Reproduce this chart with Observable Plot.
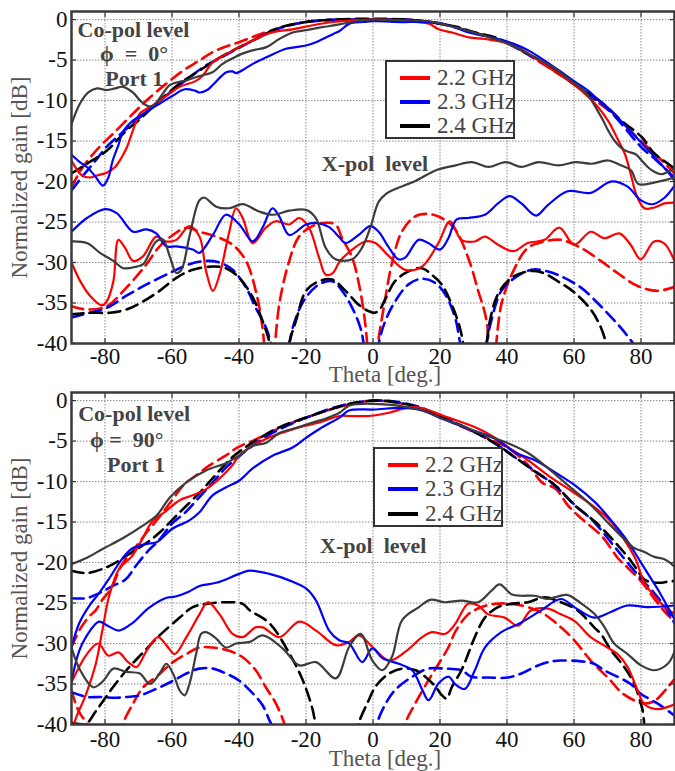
<!DOCTYPE html>
<html><head><meta charset="utf-8">
<script src="https://cdn.jsdelivr.net/npm/d3@7"></script>
<script src="https://cdn.jsdelivr.net/npm/@observablehq/plot@0.6"></script>
<style>
body{margin:0;background:#fff;}
#wrap{position:relative;width:675px;height:771px;overflow:hidden;font-family:"Liberation Serif","Times New Roman",serif;}
#wrap svg{display:block;}
.legend{position:absolute;background:#fff;border:2px solid #333;box-sizing:border-box;}
.legend .row{position:absolute;left:0;right:0;height:24px;}
.legend .sw{position:absolute;top:10px;width:30px;height:3.5px;}
.legend .lb{position:absolute;top:0;font-size:23px;line-height:24px;color:#444;white-space:nowrap;}
</style></head>
<body><div id="wrap"></div>
<script>
// ---------- axis ticks & labels ----------
const thetaTicks = [-80,-60,-40,-20,0,20,40,60,80];
const gainTicks = [0,-5,-10,-15,-20,-25,-30,-35,-40];
const freqLabels = ["2.2 GHz","2.3 GHz","2.4 GHz"];
const xLabel = "Theta [deg.]";
const yLabel = "Normalized gain [dB]";

// ---------- phi = 0 deg, co-pol (measured = solid, simulated = dashed) ----------
const phi0CoMeas22 = [[-90,-17.4],[-87,-19.2],[-84.5,-19.5],[-82,-19.2],[-79.5,-18.9],[-77,-18.2],[-75,-17],[-73.5,-15.8],[-71.5,-13.5],[-69.6,-11.6],[-67.5,-11],[-65.7,-10.6],[-61.6,-9.4],[-57.7,-8.3],[-53,-7.6],[-51,-7.0],[-47.9,-5.3],[-44,-4.3],[-40,-3.4],[-36,-2.6],[-31.8,-1.8],[-28,-1.4],[-24,-1.2],[-18,-0.7],[-12,-0.3],[-6,-0.1],[0,0],[8,-0.1],[16.7,-0.5],[19.6,-1.2],[23.6,-1.6],[28.6,-2.2],[33.5,-2.4],[40.5,-3.0],[46.4,-4.2],[52.4,-5.9],[58.3,-7.5],[62.3,-8.8],[66.3,-10.4],[70.2,-12.5],[73.2,-14.9],[75.2,-16.6],[77.2,-19.5],[78.5,-21.5],[81,-23.3],[84,-23.2],[87,-22.7],[90,-22.6]];
const phi0CoMeas23 = [[-90,-16.7],[-87.5,-17.6],[-85.4,-18.2],[-83,-19.3],[-80.6,-20.5],[-79,-19.5],[-77.7,-17.4],[-76,-15.5],[-74.7,-13.9],[-72,-12.6],[-69.6,-11.9],[-64.6,-10.6],[-59.8,-9.4],[-56.2,-8.6],[-53,-8.8],[-51.8,-9.0],[-49.5,-8.7],[-47.9,-8.1],[-43.8,-6.5],[-42,-6.4],[-40.8,-6.6],[-38,-6.0],[-36,-5.5],[-31,-4.5],[-26,-3.6],[-23,-3.4],[-20,-3.2],[-16,-2.6],[-12,-1.8],[-10,-1.4],[-7,-0.5],[-3,-0.3],[0,-0.2],[8.6,-0.3],[14,-0.3],[19.6,-0.4],[24,-0.9],[28.6,-1.6],[33,-2.0],[37.5,-2.4],[42,-3.0],[46.4,-3.8],[51,-5.0],[56.3,-6.5],[60,-7.6],[64.3,-8.8],[67.5,-10],[71,-11.2],[76,-13.4],[81,-15.6],[85,-17.4],[88,-18.8],[90,-19.9]];
const phi0CoMeas24 = [[-90,-12.9],[-87.5,-10.4],[-85,-9.0],[-82.4,-8.5],[-79.5,-8.7],[-77,-8.5],[-74.7,-8.3],[-71.7,-9.0],[-69.5,-10.0],[-67.6,-10.6],[-66,-10.7],[-64.6,-10.2],[-62.5,-9.0],[-60.7,-8.1],[-58,-7.7],[-55.7,-7.5],[-52,-7.0],[-47.9,-6.5],[-45,-5.5],[-42,-4.8],[-39,-4.2],[-36,-3.8],[-31.8,-3.4],[-28,-2.4],[-24,-1.6],[-20,-1.3],[-16,-1.0],[-10,-0.6],[-5,-0.2],[0,0],[8,-0.1],[16.7,-0.2],[22,-0.7],[28.6,-1.4],[34,-2.1],[40.5,-3.0],[46.4,-4.2],[50,-5.0],[54.5,-6.1],[58,-7.2],[62.2,-8.5],[64.5,-9.5],[66.4,-10.8],[68.5,-12.3],[70.2,-13.7],[72,-14.9],[74,-15.8],[76,-16.3],[78.3,-16.6],[80,-17.3],[82,-18.2],[84,-18.8],[86,-19.1],[88,-18.8],[90,-18.3]];
const phi0CoSim22 = [[-90,-20.7],[-86.6,-18.2],[-81.6,-15.7],[-77.6,-14.1],[-71.6,-11.6],[-67.6,-10],[-62,-8.0],[-56.7,-6.3],[-52,-5.1],[-47.8,-4.0],[-43,-3.2],[-40,-2.8],[-35,-2.0],[-30,-1.3],[-25,-0.7],[-20,-0.3],[-15,-0.1],[-10,0],[0,0],[10,0],[15,-0.2],[20,-0.5],[25,-1.0],[30,-1.6],[35,-2.2],[40,-2.9],[45,-4.0],[50,-5.3],[55,-6.6],[60,-8.0],[65,-9.6],[70,-11.1],[75,-13.0],[80,-15.0],[85,-16.9],[90,-19.0]];
const phi0CoSim23 = [[-90,-21.1],[-86.6,-19.3],[-82.6,-17.3],[-79.5,-15.7],[-75,-14.0],[-70,-12.2],[-65,-10.5],[-60,-8.8],[-55,-7.2],[-50,-5.7],[-45,-4.6],[-40,-3.5],[-35,-2.4],[-30,-1.4],[-25,-0.7],[-20,-0.3],[-15,-0.1],[-10,0],[0,0],[10,0],[15,-0.2],[20,-0.5],[25,-1.0],[30,-1.6],[35,-2.2],[40,-2.9],[45,-4.0],[50,-5.2],[55,-6.5],[60,-7.9],[65,-9.4],[70,-11.0],[74.2,-12.9],[80.2,-15.8],[84.1,-17.2],[87,-18.3],[90,-19.6]];
const phi0CoSim24 = [[-90,-19.0],[-85.4,-17.8],[-79.5,-16.2],[-73.6,-13.7],[-69.6,-12.3],[-63.7,-10.0],[-57.7,-7.9],[-51.8,-6.3],[-45.8,-4.7],[-39.9,-3.4],[-34,-2.2],[-28,-1.0],[-20,-0.3],[-12,0],[0,0.1],[10,0],[15,-0.2],[20,-0.5],[25,-0.9],[30.6,-1.6],[36.5,-2.2],[42.5,-3.4],[48.4,-4.7],[56.3,-6.9],[62.3,-8.6],[68.2,-10.2],[74.2,-12.5],[80.2,-14.5],[84.1,-16.6],[88.1,-17.8],[90,-18.4]];

// ---------- phi = 0 deg, cross-pol ----------
const phi0XMeas22 = [[-90,-30],[-87.4,-32.3],[-84.5,-34.1],[-81,-35.3],[-79.5,-34.8],[-77.5,-32.3],[-76,-27.2],[-74,-28.2],[-71.6,-29.8],[-68.6,-29.2],[-64.7,-26.8],[-61.7,-27.4],[-58.7,-27.2],[-54.8,-25.5],[-51.8,-26.8],[-49.8,-31.1],[-47.8,-33.5],[-45.8,-31.5],[-42.9,-26.2],[-40.9,-23.3],[-38.9,-24.5],[-35.9,-27.6],[-32,-25.7],[-29,-24.9],[-25,-25.3],[-22,-24.5],[-19.1,-25.7],[-16.1,-29.4],[-14.1,-31.5],[-12,-31.3],[-10,-29.9],[-6.2,-28.4],[-2.3,-27.4],[0.7,-27.6],[4.7,-29.2],[9.6,-30.9],[14.6,-30.5],[19.5,-27.6],[23,-24.9],[26.4,-27.2],[30.4,-27.4],[33.4,-26.8],[37.3,-27.8],[41.8,-28.6],[46.2,-27.6],[51.2,-27.2],[55.6,-25.7],[60.1,-27.8],[65,-26.2],[69,-27],[73.5,-26.4],[76.9,-27.8],[79.9,-29.6],[83.9,-27.4],[86.8,-27.6],[90,-29.8]];
const phi0XMeas23 = [[-90,-26.2],[-85.4,-24.5],[-80,-23.4],[-76.5,-23.9],[-71.6,-26.2],[-67.6,-25.9],[-64.7,-26.4],[-61.7,-28.0],[-58.7,-28],[-53.8,-28.4],[-51.8,-28.8],[-47.8,-26.6],[-43.9,-24.1],[-39.9,-25.3],[-35.9,-27.4],[-33,-25.7],[-30,-23.3],[-28,-24.3],[-25,-26.6],[-20,-25.3],[-17.1,-25.1],[-13.2,-25.6],[-10.2,-26.8],[-8.2,-27.6],[-4.3,-26.6],[-0.8,-25.5],[1.7,-26.2],[4.5,-28],[7.6,-29.6],[9.6,-29.4],[13.6,-27.2],[16.5,-27.6],[20,-28.4],[22.5,-27],[24.9,-24.7],[28.4,-24.5],[33.4,-24.1],[37.3,-22.7],[40.8,-21.8],[44.3,-22.7],[48.7,-24.2],[52.2,-22.9],[58.1,-21.2],[65,-21.4],[71,-20],[75.9,-20.6],[79.9,-22.3],[83.4,-22.8],[87,-22],[90,-20.5]];
const phi0XMeas24 = [[-90,-27.4],[-85.4,-27.6],[-81.5,-28.8],[-77.5,-29.8],[-74.6,-30.7],[-70.6,-30.5],[-68.6,-30.2],[-64.7,-27.4],[-62.7,-27.2],[-60.7,-29.2],[-58.7,-31.3],[-57.2,-30.9],[-54.8,-26.8],[-51.8,-22.3],[-50.3,-22.0],[-46.8,-23.1],[-42.9,-23.3],[-38.9,-22.8],[-34,-23.7],[-30,-24.1],[-25,-23.6],[-20,-23.5],[-17.1,-24.5],[-14.1,-28.2],[-11.2,-29.6],[-6.2,-29.6],[-3.3,-28.2],[-0.8,-25.7],[1.7,-22.5],[4,-21.5],[6.8,-20.9],[12.8,-19.9],[18.8,-18.6],[24.7,-18.0],[29.5,-17.6],[34.5,-18.2],[39.6,-17.6],[44.3,-18.2],[49.4,-17.6],[55.4,-18.0],[60.4,-17.6],[65.2,-17.8],[70.2,-17.4],[74,-18.0],[77,-18.6],[79.2,-20.3],[84.2,-20.1],[90,-19.5]];
const phi0XSim22 = [[-90,-35.4],[-85.4,-35.8],[-79.5,-35.4],[-73.6,-33.1],[-67.6,-30.2],[-63.7,-28],[-59.7,-26.6],[-55.7,-25.7],[-51.8,-26.2],[-46.8,-26.8],[-41.9,-27.8],[-37.9,-29.8],[-35,-33.5],[-33,-38],[-31,-47],[-28,-35.2],[-25,-29.8],[-22.1,-26.8],[-18.1,-25.5],[-14.1,-25.1],[-11.2,-25.3],[-9.2,-27],[-6.2,-29.4],[-3.8,-33.5],[-2.3,-37.6],[0,-47],[1.5,-40],[3.2,-35.6],[5.6,-30.2],[8.6,-26.2],[12.6,-24.3],[16.5,-24],[20.5,-24.5],[24.5,-25.9],[28.4,-29.4],[31.4,-33.5],[33.9,-37.2],[35.3,-46],[38.3,-35.2],[42.3,-30.7],[46.2,-28.2],[51.2,-27.4],[56.1,-27.2],[62.1,-28.2],[68,-29.8],[73,-31.3],[79,-32.9],[84.9,-33.5],[90,-33.0]];
const phi0XSim23 = [[-90,-36.8],[-84.5,-36.2],[-79.5,-35.6],[-73.6,-34.1],[-67.6,-32.7],[-59.7,-31.1],[-54.8,-30.2],[-49.8,-29.8],[-45.8,-30],[-41.9,-30.9],[-37.9,-33.1],[-35,-35.6],[-32,-38],[-30.5,-40],[-27.7,-48],[-25,-40],[-23,-36.8],[-20,-34.3],[-16.1,-32.7],[-12.2,-32.3],[-9.2,-33.5],[-6.2,-35.6],[-3.8,-38],[-2.8,-40],[-0.5,-48],[1.7,-40],[3.7,-37.2],[6.6,-34.8],[10.6,-32.7],[14.6,-32],[18.5,-32.5],[21.5,-33.9],[24.5,-36.8],[25.9,-39.7],[30,-50],[33.9,-40],[35.3,-37.2],[38.3,-33.5],[42.3,-31.9],[47.2,-30.9],[51.2,-31],[56.1,-31.7],[62.1,-33.1],[68,-35.4],[73,-37.6],[76.4,-39.3],[78.4,-40.5],[80,-42]];
const phi0XSim24 = [[-90,-36.4],[-84.5,-36.2],[-78.5,-36.2],[-73.6,-35.8],[-68.6,-34.8],[-63.7,-33.5],[-58.7,-31.9],[-53.8,-30.9],[-47.8,-30.5],[-43.9,-30.7],[-39.9,-31.9],[-35.9,-34.3],[-33,-37.2],[-31,-39.7],[-28,-48],[-25,-40],[-23,-37.2],[-20,-33.5],[-16.1,-32.3],[-12.2,-32.1],[-8.2,-33.5],[-4.3,-35.2],[-1.3,-36],[0.5,-36.2],[2,-35.8],[3.7,-34.5],[6.6,-32.3],[10.6,-31.1],[14.6,-30.7],[17.5,-31.5],[20.5,-32.7],[23.5,-35.2],[25.9,-38],[26.9,-40],[30.4,-50],[33.9,-40],[34.9,-37.2],[37.3,-33.9],[41.3,-31.9],[46.2,-31.1],[50.2,-31.2],[55.1,-32.3],[60.1,-33.7],[65,-35.8],[68,-38],[70,-40.5],[71,-42]];

// ---------- phi = 90 deg, co-pol ----------
const phi90CoMeas22 = [[-89.6,-42],[-89.2,-39.9],[-85.7,-36.3],[-82.8,-32.6],[-80.8,-28.4],[-78.8,-24.2],[-75.8,-20.8],[-71.9,-19.2],[-69,-17.2],[-66,-15.0],[-62,-13.7],[-57.7,-12.3],[-53.8,-11.7],[-49.7,-10.9],[-45.8,-9.6],[-42,-8.0],[-40,-6.8],[-36,-5.6],[-31.8,-4.7],[-28,-4.1],[-22,-3.3],[-16,-2.7],[-10,-1.9],[-7,-1.9],[-1.2,-1.9],[4.8,-1.5],[9,-1.0],[12.6,-0.8],[16.7,-1.2],[22.5,-2.1],[30.5,-3.3],[36.5,-4.6],[40.5,-5.8],[46.4,-7.4],[52.4,-9.3],[58.3,-10.9],[64.3,-12.6],[70.2,-14.6],[74.2,-16.7],[78.3,-19.5],[81,-22.5],[85,-24.6],[88,-25.8],[90,-26.3]];
const phi90CoMeas23 = [[-90,-30.5],[-87.7,-27.5],[-84.8,-25.4],[-81.8,-23.8],[-78.8,-22],[-75,-19.6],[-72,-18.3],[-67.6,-17.7],[-64.6,-17.5],[-59.8,-15.8],[-54.8,-14.8],[-51.8,-13.8],[-47.9,-11.7],[-43.8,-10.7],[-40,-9.9],[-36,-8.4],[-30,-6.8],[-24,-5.8],[-20,-4.6],[-16,-3.5],[-10,-2.1],[-7,-1.2],[0.3,-1.1],[8.6,-0.9],[14.6,-1.2],[20.5,-2.2],[28.6,-3.5],[36.5,-4.7],[42.4,-6.4],[48.5,-7.4],[54.5,-8.9],[60.4,-10.5],[66.4,-12.6],[72.3,-15.4],[76.2,-17.5],[80,-20.0],[82.1,-21.4],[85,-23.3],[88,-25.5],[90,-27]];
const phi90CoMeas24 = [[-90,-20.2],[-85.4,-19.4],[-80.6,-18.3],[-74.7,-17.0],[-68.6,-15.4],[-64.6,-14.2],[-60.7,-12.0],[-55.7,-10.1],[-49.7,-8.6],[-43.8,-7.7],[-40,-6.8],[-36,-5.6],[-31.8,-5.2],[-28,-4.0],[-24,-3.5],[-18,-2.7],[-14,-2.2],[-10,-1.5],[-7,-0.6],[0.3,-0.4],[6.8,-0.6],[14.6,-1.2],[20.5,-2.2],[26.5,-3.1],[32.4,-4.1],[40.5,-5.3],[46.4,-6.5],[52.4,-8.4],[58.3,-10.5],[64.3,-12.6],[70.2,-15.1],[75,-17.1],[78,-18.2],[81,-18.7],[84,-19.3],[87,-19.6],[90,-20.5]];
const phi90CoSim22 = [[-90,-30.4],[-87.4,-28.2],[-84.8,-26.7],[-82.8,-25.9],[-80.8,-24.6],[-78.3,-23.3],[-74.9,-20.2],[-71.9,-18.7],[-68,-16.5],[-64,-14.5],[-60,-12.3],[-56.2,-10.3],[-52,-9.0],[-48.8,-8.0],[-44,-6.8],[-40.5,-5.8],[-35,-4.8],[-28,-3.4],[-20,-2.1],[-12,-1.0],[-6,-0.4],[0,0],[6,-0.2],[14,-0.9],[20,-2.0],[28,-3.5],[35,-4.8],[40.5,-5.9],[46.4,-8.0],[50.4,-10.1],[54.5,-10.9],[58.3,-13],[62.3,-14.6],[68.2,-16.7],[73.2,-19.5],[76.2,-20.7],[80,-22.3],[84,-24.5],[88,-26.5],[90,-27.2]];
const phi90CoSim23 = [[-90,-24.4],[-85.7,-24.4],[-81.8,-23.8],[-77.8,-22.9],[-73.9,-22.1],[-70.6,-20.3],[-67,-18.5],[-64,-17.3],[-60,-15.2],[-56,-13.8],[-52,-12.0],[-48,-10.2],[-44,-8.3],[-40,-6.9],[-36,-5.6],[-30,-4.0],[-24,-2.8],[-18,-1.8],[-12,-0.9],[-6,-0.3],[0,0],[6,-0.1],[14,-0.8],[20,-1.9],[28,-3.4],[36,-5.2],[42,-6.9],[48,-8.6],[54,-10.4],[60,-12.8],[66,-15.0],[72,-18],[79,-21.5],[84,-23.8],[87,-25.4],[90,-27.5]];
const phi90CoSim24 = [[-90,-21],[-85.7,-21.3],[-80.8,-20.8],[-76.8,-20],[-71.9,-18.7],[-67,-17.4],[-63.7,-16.3],[-57.7,-13.8],[-51.8,-11.4],[-47.9,-9.6],[-42,-7.0],[-36,-5.2],[-28,-3.3],[-20,-2.1],[-12,-1.0],[-7,-0.4],[0.3,0],[6.8,-0.2],[14.6,-1.0],[20.5,-2.1],[28.6,-3.5],[36.5,-5.3],[42.4,-7.0],[48.5,-8.8],[54.5,-10.5],[60.4,-13],[66.4,-15],[72.3,-17.5],[77,-19.8],[79,-21],[81,-22.1],[85,-22.5],[89,-22.3],[90,-22.3]];

// ---------- phi = 90 deg, cross-pol ----------
const phi90XMeas22 = [[-90,-34.8],[-85.4,-31.3],[-82,-30.0],[-79,-31.5],[-76,-31.1],[-73.1,-32.3],[-70.6,-32.9],[-67.6,-30.9],[-64.2,-29.2],[-61.7,-30.2],[-59.2,-31.3],[-55.7,-29.2],[-51.8,-26.4],[-49.3,-24.9],[-45.8,-26.4],[-41.9,-28.8],[-38.9,-29.2],[-35,-28.0],[-32.9,-28],[-27.9,-29.2],[-22,-27.3],[-17,-28.4],[-11.1,-30.2],[-7.1,-29.8],[-4.2,-29],[-0.2,-30.4],[4.8,-32.1],[9.7,-31],[14.7,-29.2],[17.6,-28.6],[21.6,-28.8],[24.5,-27.6],[28.4,-25.1],[31.4,-25.3],[34.4,-26.4],[39.3,-26.8],[43.3,-27.8],[47.2,-25.9],[52.2,-25.7],[56.1,-26.4],[60.1,-27.2],[65,-29.2],[70,-30.5],[73,-31.3],[76,-32.9],[79,-35.8],[81,-37.5],[85,-38.1],[90,-37.5]];
const phi90XMeas23 = [[-90,-34.6],[-87.7,-30.9],[-85.7,-29.2],[-81.8,-27.3],[-78.8,-27.9],[-75.8,-28.4],[-71.9,-27.5],[-66.9,-25.6],[-62,-24.4],[-59,-24.2],[-55,-23.6],[-51.8,-22.9],[-46.8,-22.5],[-39.9,-21.4],[-36.8,-21],[-30.9,-21.4],[-25,-22.2],[-20,-23.2],[-17,-24.7],[-13.1,-28.4],[-10.1,-29.6],[-7.1,-30.0],[-3.2,-32.3],[-0.2,-30.6],[2.8,-31.8],[7.7,-32.5],[11.7,-33.3],[14.7,-35.7],[16.6,-37],[19.6,-34.9],[22.6,-34.1],[24.5,-35.0],[27.4,-35.6],[30.4,-33.3],[33.4,-30.5],[38.3,-28.6],[44.3,-27.4],[50.2,-25.9],[56.1,-24.5],[60.1,-25.5],[66,-26.8],[71,-26.1],[75.9,-25.3],[81.9,-25.5],[90,-25.3]];
const phi90XMeas24 = [[-90,-30.5],[-87.4,-33.3],[-83.5,-35.4],[-80.5,-34.6],[-77.5,-33.1],[-73.6,-33.5],[-69.6,-33.7],[-66.6,-35.0],[-63.7,-33.7],[-61.7,-32.5],[-59.7,-33.7],[-57.7,-35.8],[-56.2,-36.4],[-54.8,-35.0],[-52.8,-31.3],[-51.3,-28.8],[-49.8,-28.6],[-46.8,-29.4],[-43.9,-30.5],[-40.9,-30.0],[-36.8,-29.8],[-32.9,-29],[-27,-30.6],[-22,-32.7],[-17,-32.3],[-11.1,-34.3],[-7.1,-30.4],[-3.7,-28.8],[-0.2,-32.1],[2.8,-33.3],[5.7,-31.6],[8.7,-27.1],[13.7,-25.5],[17.1,-24.6],[21.5,-24.9],[26.4,-24.7],[31.4,-24.9],[35.3,-23.5],[37.8,-22.7],[41.3,-23.9],[44.3,-24.1],[48.2,-24.1],[52.2,-24.5],[55,-24.2],[58,-24],[62,-25],[66,-26.3],[69,-27.9],[72,-30],[76,-31.3],[80,-32.7],[84,-33.3],[88,-32.5],[90,-31]];
const phi90XSim22 = [[-90,-35.8],[-88.7,-37.5],[-87.4,-38.7],[-85.4,-39.9],[-84.8,-41.5],[NaN,NaN],[-75.2,-41.5],[-74.6,-39.9],[-71.6,-37.4],[-68.6,-35.4],[-64.7,-34.1],[-59.7,-32.3],[-55.7,-31.3],[-51.8,-30.5],[-47.8,-30.5],[-42.9,-30.9],[-38.9,-31.7],[-35,-33.3],[-32,-35.4],[-29,-37.4],[-26.5,-39.9],[-25.9,-41.5],[NaN,NaN],[9,-41.5],[9.6,-39.9],[12.6,-37.4],[16.6,-34.5],[19.6,-32.5],[22.6,-30.4],[24.5,-28.6],[28.4,-26.4],[32.4,-25.5],[36.3,-25.1],[41.3,-25.1],[46.2,-25.5],[51.2,-26.4],[56.1,-28],[60.1,-29.6],[65,-32.1],[71,-34.6],[74,-36],[77.9,-37],[80.9,-37.4],[84,-37.1],[88,-35.4],[90,-34.4]];
const phi90XSim23 = [[-90,-36],[-85.4,-36.6],[-81.5,-36.6],[-76.8,-36.7],[-73.6,-36.6],[-69.6,-36.4],[-64.7,-35.6],[-59.7,-34.6],[-55.7,-33.7],[-51.8,-33.1],[-47.8,-33.1],[-43.9,-33.7],[-39.9,-34.6],[-35.8,-36.2],[-33,-37.6],[-31,-39.4],[-30,-40.3],[-29.5,-41.5],[NaN,NaN],[0.9,-41.5],[1.3,-39.8],[3.8,-37.4],[6.7,-35.7],[11.7,-34.1],[16.5,-33.1],[21.5,-33.1],[26.4,-33.3],[29.4,-34.1],[34.4,-34.2],[40.3,-34.2],[44.3,-33.7],[48.2,-32.9],[52.2,-32.3],[56.1,-32.1],[62.1,-32.2],[66,-32.5],[69,-33.3],[73,-34.1],[76.9,-35],[79.9,-36.2],[84.9,-37.4],[90,-38.9]];
const phi90XSim24 = [[-90,-39.8],[-85.7,-39.9],[-82.8,-38.4],[-77.8,-35.5],[-73.6,-33.3],[-68.6,-31.1],[-63.7,-29],[-57.7,-26.8],[-53.8,-25.5],[-49.8,-25.1],[-43.9,-24.9],[-38.9,-25.1],[-36.8,-25.9],[-30.9,-27.5],[-25,-31.2],[-21,-34.5],[-18,-38.2],[-17.1,-40.3],[-16.7,-41.5],[NaN,NaN],[-4.7,-41.5],[-4.2,-39.8],[-1.5,-37.2],[0.8,-35.3],[4.8,-33.7],[8.7,-33.1],[12.7,-33.3],[15.6,-34.1],[18.6,-35.3],[20.6,-36.4],[22,-36.8],[23.5,-35.4],[26.4,-33.3],[28.4,-31.3],[30.4,-29.2],[33.4,-26.8],[37.3,-25.5],[41.3,-25.1],[46.2,-24.9],[51.2,-24.3],[56.1,-24.9],[61.1,-25.9],[66,-28],[68,-28.8],[71,-30.8],[75,-32.9],[78,-35],[80,-37.5],[80.5,-38.3],[81.3,-41.5]];

// ---------- annotations (theta, gain) ----------
const phi0Notes = [
  {t:"Co-pol level", x:-88.2, y:-1.3},
  {t:"\u03D5\u00A0\u00A0=\u00A0\u00A00°", x:-81.5, y:-4.2},
  {t:"Port 1", x:-79.9, y:-7.3},
  {t:"X-pol\u00A0\u00A0level", x:-15.3, y:-17.8}
];
const phi90Notes = [
  {t:"Co-pol level", x:-88.0, y:-1.6},
  {t:"\u03D5\u00A0=\u00A0\u00A090°", x:-84.5, y:-4.9},
  {t:"Port 1", x:-79.4, y:-8.0},
  {t:"X-pol\u00A0\u00A0level", x:-15.8, y:-17.9}
];

// ---------- styles ----------
const FONT = '"Liberation Serif","Times New Roman",serif';
const measColors = ["#ff0000","#0000ff","#3c3c3c"];
const simColors = ["#ff0000","#0000ff","#000000"];
const legendColors = ["#ff0000","#0000ff","#000000"];

function panel(opts) {
  const {height, marginTop, marginBottom, meas, sim, notes, tickPad, xLabDy} = opts;
  const gridStyle = {stroke:"#8a8a8a", strokeOpacity:1, strokeWidth:1, strokeDasharray:"1.5,1.5"};
  const marks = [
    Plot.gridX(thetaTicks, gridStyle),
    Plot.gridY(gainTicks, gridStyle)
  ];
  sim.forEach((d,i) => marks.push(Plot.line(d, {x: p=>p[0], y: p=>p[1], stroke: simColors[i % 3], strokeWidth: 2.6, strokeDasharray: "12,6.5", curve: "catmull-rom", clip: true})));
  meas.forEach((d,i) => marks.push(Plot.line(d, {x: p=>p[0], y: p=>p[1], stroke: measColors[i % 3], strokeWidth: 2.2, curve: "catmull-rom", clip: true})));
  const tickOpts = {tickFormat: () => "", label: null, stroke: "#333", strokeWidth: 1.2};
  marks.push(
    Plot.axisX({ticks: thetaTicks, anchor: "bottom", tickSize: 5, dy: -5, ...tickOpts}),
    Plot.axisX({ticks: thetaTicks, anchor: "top", tickSize: 5, dy: 5, ...tickOpts}),
    Plot.axisY({ticks: gainTicks, anchor: "left", tickSize: 5, dx: 5, ...tickOpts}),
    Plot.axisY({ticks: gainTicks, anchor: "right", tickSize: 5, dx: -5, ...tickOpts}),
    Plot.axisX({ticks: thetaTicks, anchor: "bottom", tickSize: 0, tickPadding: tickPad, tickFormat: d => String(d), label: null, fontSize: 23, fill: "#111"}),
    Plot.axisY({ticks: gainTicks, anchor: "left", tickSize: 0, tickPadding: 4, tickFormat: d => String(d), label: null, fontSize: 23, fill: "#111"}),
    Plot.frame({stroke: "#3a3a3a", strokeWidth: 2.5}),
    Plot.text(notes, {x: "x", y: "y", text: "t", textAnchor: "start", lineAnchor: "middle", fontWeight: "bold", fontSize: 22, fill: "#444"}),
    Plot.text([xLabel], {frameAnchor: "bottom", textAnchor: "middle", lineAnchor: "middle", dx: 12, dy: xLabDy, fontSize: 23, fill: "#555"}),
    Plot.text([yLabel], {frameAnchor: "left", textAnchor: "middle", lineAnchor: "middle", rotate: -90, dx: -52, fontSize: 23, fill: "#555"})
  );
  return Plot.plot({
    width: 675, height, marginTop, marginBottom, marginLeft: 71, marginRight: 1,
    style: {fontFamily: FONT, background: "#fff", overflow: "visible"},
    x: {domain: [-90, 90]},
    y: {domain: [-40, 1]},
    marks
  });
}

function makeLegend(left, topPx, width, height, rowTops, swLeft, lbLeft) {
  const box = document.createElement("div");
  box.className = "legend";
  Object.assign(box.style, {left: left + "px", top: topPx + "px", width: width + "px", height: height + "px"});
  freqLabels.forEach((lab, i) => {
    const row = document.createElement("div");
    row.className = "row";
    row.style.top = rowTops[i] + "px";
    const sw = document.createElement("div");
    sw.className = "sw"; sw.style.left = swLeft + "px"; sw.style.background = legendColors[i];
    const lb = document.createElement("div");
    lb.className = "lb"; lb.style.left = lbLeft + "px"; lb.textContent = lab;
    row.appendChild(sw); row.appendChild(lb); box.appendChild(row);
  });
  return box;
}

const wrap = document.getElementById("wrap");
const panelPhi0 = panel({height: 385, marginTop: 11, marginBottom: 42,
  meas: [phi0CoMeas22, phi0CoMeas23, phi0CoMeas24, phi0XMeas22, phi0XMeas23, phi0XMeas24],
  sim: [phi0CoSim22, phi0CoSim23, phi0CoSim24, phi0XSim22, phi0XSim23, phi0XSim24],
  notes: phi0Notes, tickPad: 4, xLabDy: 31});
const panelPhi90 = panel({height: 386, marginTop: 7, marginBottom: 47,
  meas: [phi90CoMeas22, phi90CoMeas23, phi90CoMeas24, phi90XMeas22, phi90XMeas23, phi90XMeas24],
  sim: [phi90CoSim22, phi90CoSim23, phi90CoSim24, phi90XSim22, phi90XSim23, phi90XSim24],
  notes: phi90Notes, tickPad: 6, xLabDy: 34});
wrap.appendChild(panelPhi0);
wrap.appendChild(panelPhi90);
wrap.appendChild(makeLegend(385, 60, 130, 79, [4, 28, 52], 13, 50));
wrap.appendChild(makeLegend(373, 447, 130, 80, [4, 28, 53], 13, 50));
</script>
</body></html>
